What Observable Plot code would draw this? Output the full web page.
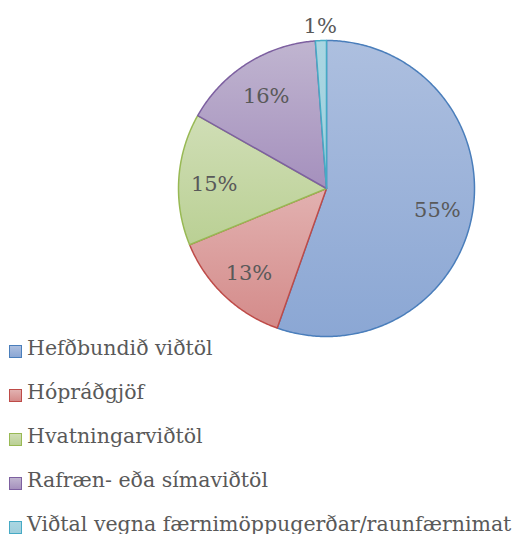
<!DOCTYPE html>
<html><head><meta charset="utf-8">
<script src="https://cdn.jsdelivr.net/npm/d3@7"></script>
<script src="https://cdn.jsdelivr.net/npm/@observablehq/plot@0.6"></script>
<style>
body{margin:0;background:#fff;width:512px;height:534px;overflow:hidden;}
#chart svg{display:block;}
#legend{position:relative;height:196px;font-family:"DejaVu Serif",serif;font-size:20.5px;color:#595959;}
.row{position:absolute;left:9px;height:20px;display:flex;align-items:flex-start;white-space:nowrap;}
.row span{line-height:20px;}
.sw{width:11px;height:11px;border:1.5px solid;margin-right:5px;margin-top:7px;flex:none;}
</style></head><body>
<div id="chart"></div>
<div id="legend"></div>
<script>
const categories = ["Hefðbundið viðtöl", "Hópráðgjöf", "Hvatningarviðtöl", "Rafræn- eða símaviðtöl", "Viðtal vegna færnimöppugerðar/raunfærnimat"];
const values = [55.4, 13.4, 14.4, 15.6, 1.2];
const labels = ["55%", "13%", "15%", "16%", "1%"];
const fillTop = ["#adbfdf", "#e2b1b0", "#d0deb6", "#c0b5d0", "#aad6e2"];
const fillBottom = ["#8ba7d4", "#d48b8a", "#bad094", "#a590bd", "#9fcfdc"];
const strokes = ["#4a7ebb", "#be4b48", "#98b954", "#7d60a0", "#46aac5"];

const arcs = d3.pie().sort(null).value(d => d)(values);
const marks = [];
arcs.forEach((a, i) => {
  const pts = [{x: 0, y: 0}];
  const n = Math.max(2, Math.ceil((a.endAngle - a.startAngle) / 0.01));
  for (let k = 0; k <= n; k++) {
    const t = a.startAngle + (a.endAngle - a.startAngle) * k / n;
    pts.push({x: Math.sin(t), y: Math.cos(t)});
  }
  marks.push(Plot.line(pts, {x: "x", y: "y", fill: `url(#g${i})`, stroke: strokes[i], strokeWidth: 1.5, curve: "linear-closed", strokeLinejoin: "round"}));
});
const labelData = arcs.map((a, i) => {
  const mid = (a.startAngle + a.endAngle) / 2;
  const r = values[i] < 5 ? 1.12 : 0.76;
  return {x: r * Math.sin(mid), y: r * Math.cos(mid), text: labels[i]};
});
marks.push(Plot.text(labelData, {x: "x", y: "y", text: "text", fill: "#595959", fontSize: 21, fontFamily: "DejaVu Serif", dy: 3}));

const chart = Plot.plot({
  width: 512, height: 338,
  margin: 0,
  x: {domain: [-1, 1], range: [178, 474], axis: null},
  y: {domain: [-1, 1], range: [336, 40], axis: null},
  marks
});
const defs = d3.select(chart).insert("defs", ":first-child");
fillTop.forEach((c, i) => {
  const g = defs.append("linearGradient").attr("id", `g${i}`).attr("x1", 0).attr("y1", 0).attr("x2", 0).attr("y2", 1);
  g.append("stop").attr("offset", "0%").attr("stop-color", c);
  g.append("stop").attr("offset", "100%").attr("stop-color", fillBottom[i]);
});
document.getElementById("chart").appendChild(chart);

const legend = d3.select("#legend");
categories.forEach((c, i) => {
  const row = legend.append("div").attr("class", "row").style("top", `${-0.5 + i * 44}px`);
  row.append("div").attr("class", "sw")
    .style("background", `linear-gradient(${fillTop[i]}, ${fillBottom[i]})`)
    .style("border-color", strokes[i]);
  row.append("span").text(c);
});
</script>
</body></html>
